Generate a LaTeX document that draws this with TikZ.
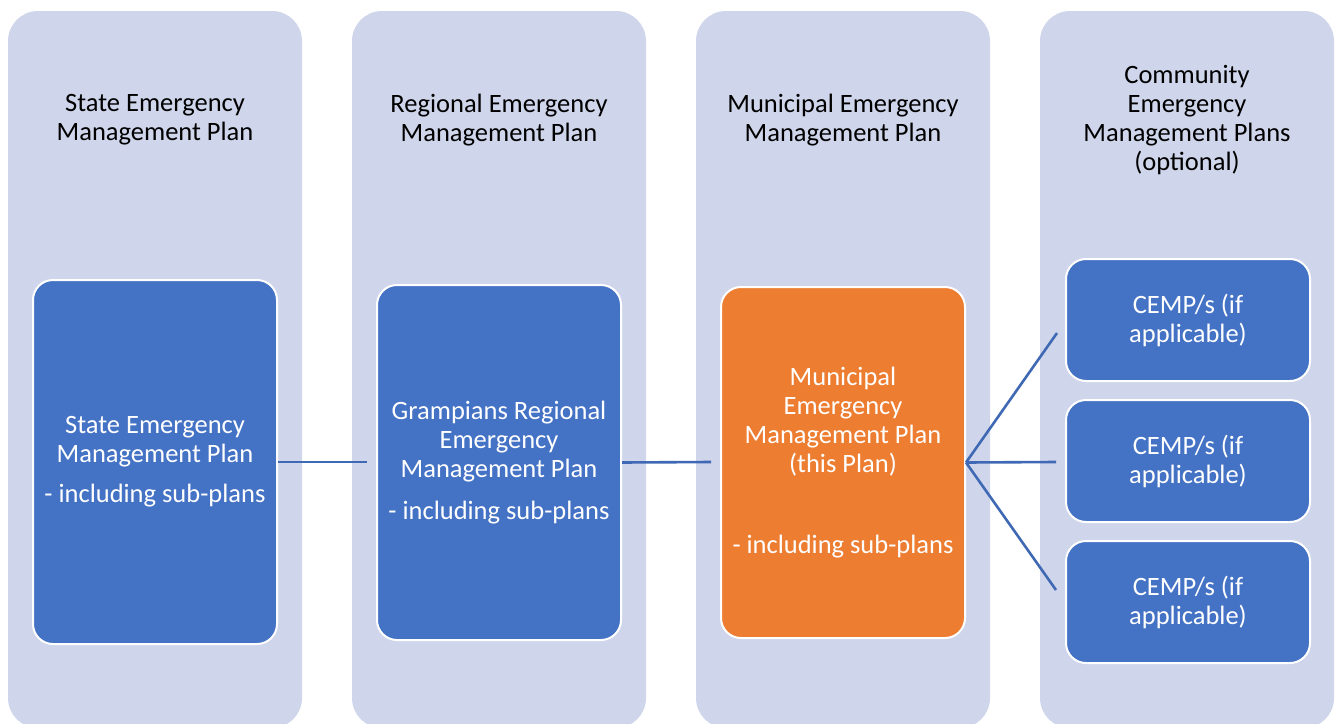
\documentclass[tikz,border=0pt]{standalone}
\usepackage{fontspec}
\setmainfont{Carlito}
\definecolor{lav}{HTML}{CFD5EA}
\definecolor{accblue}{HTML}{4472C4}
\definecolor{accorange}{HTML}{ED7D31}
\definecolor{linkblue}{HTML}{4069B5}
\tikzset{
  colbox/.style={fill=lav, draw=none, rounded corners=30pt, minimum width=294pt, minimum height=717pt, inner sep=0pt},
  hdr/.style={align=center, text=black, font=\fontsize{26.5pt}{29pt}\selectfont, inner sep=0pt},
  plan/.style={fill=accblue, draw=white, line width=2pt, rounded corners=20pt, minimum width=244pt, text=white, align=center, font=\fontsize{26.5pt}{29pt}\selectfont, inner sep=0pt},
  link/.style={draw=linkblue, line width=2.6pt}
}
\begin{document}
\begin{tikzpicture}[x=1pt, y=-1pt]
\useasboundingbox (0,0) rectangle (1338,723);
\clip (0,0) rectangle (1338,723);
% columns
\node[colbox] (c1) at (155,369.5) {};
\node[colbox] (c2) at (499,369.5) {};
\node[colbox] (c3) at (843,369.5) {};
\node[colbox] (c4) at (1187,369.5) {};
% headers
\node[hdr] (h1) at (155,120) {State Emergency\\Management Plan};
\node[hdr] (h2) at (499,120) {Regional Emergency\\Management Plan};
\node[hdr] (h3) at (843,120) {Municipal Emergency\\Management Plan};
\node[hdr] (h4) at (1187,120) {Community\\Emergency\\Management Plans\\(optional)};
% plan boxes
\node[plan, minimum height=364pt] (p1) at (155,462) {State Emergency\\Management Plan\\[11pt]- including sub-plans};
\node[plan, minimum height=355pt] (p2) at (499,462.5) {Grampians Regional\\Emergency\\Management Plan\\[13pt]- including sub-plans};
\node[plan, fill=accorange, minimum height=351pt] (p3) at (843,462.5) {Municipal\\Emergency\\Management Plan\\(this Plan)\\[52pt]- including sub-plans};
\node[plan, minimum height=122pt] (k1) at (1188,320) {CEMP/s (if\\applicable)};
\node[plan, minimum height=122pt] (k2) at (1188,461) {CEMP/s (if\\applicable)};
\node[plan, minimum height=122pt] (k3) at (1188,602) {CEMP/s (if\\applicable)};
% connector ends
\coordinate (e1) at (367,462);
\coordinate (e2) at (711,462);
\coordinate (f1) at (1057,333);
\coordinate (f2) at (1056,462);
\coordinate (f3) at (1056,590);
% connectors
\draw[link] (p1.east) -- (e1);
\draw[link] (p2.east) -- (e2);
\draw[link] (p3.east) -- (f1);
\draw[link] (p3.east) -- (f2);
\draw[link] (p3.east) -- (f3);
\end{tikzpicture}
\end{document}
